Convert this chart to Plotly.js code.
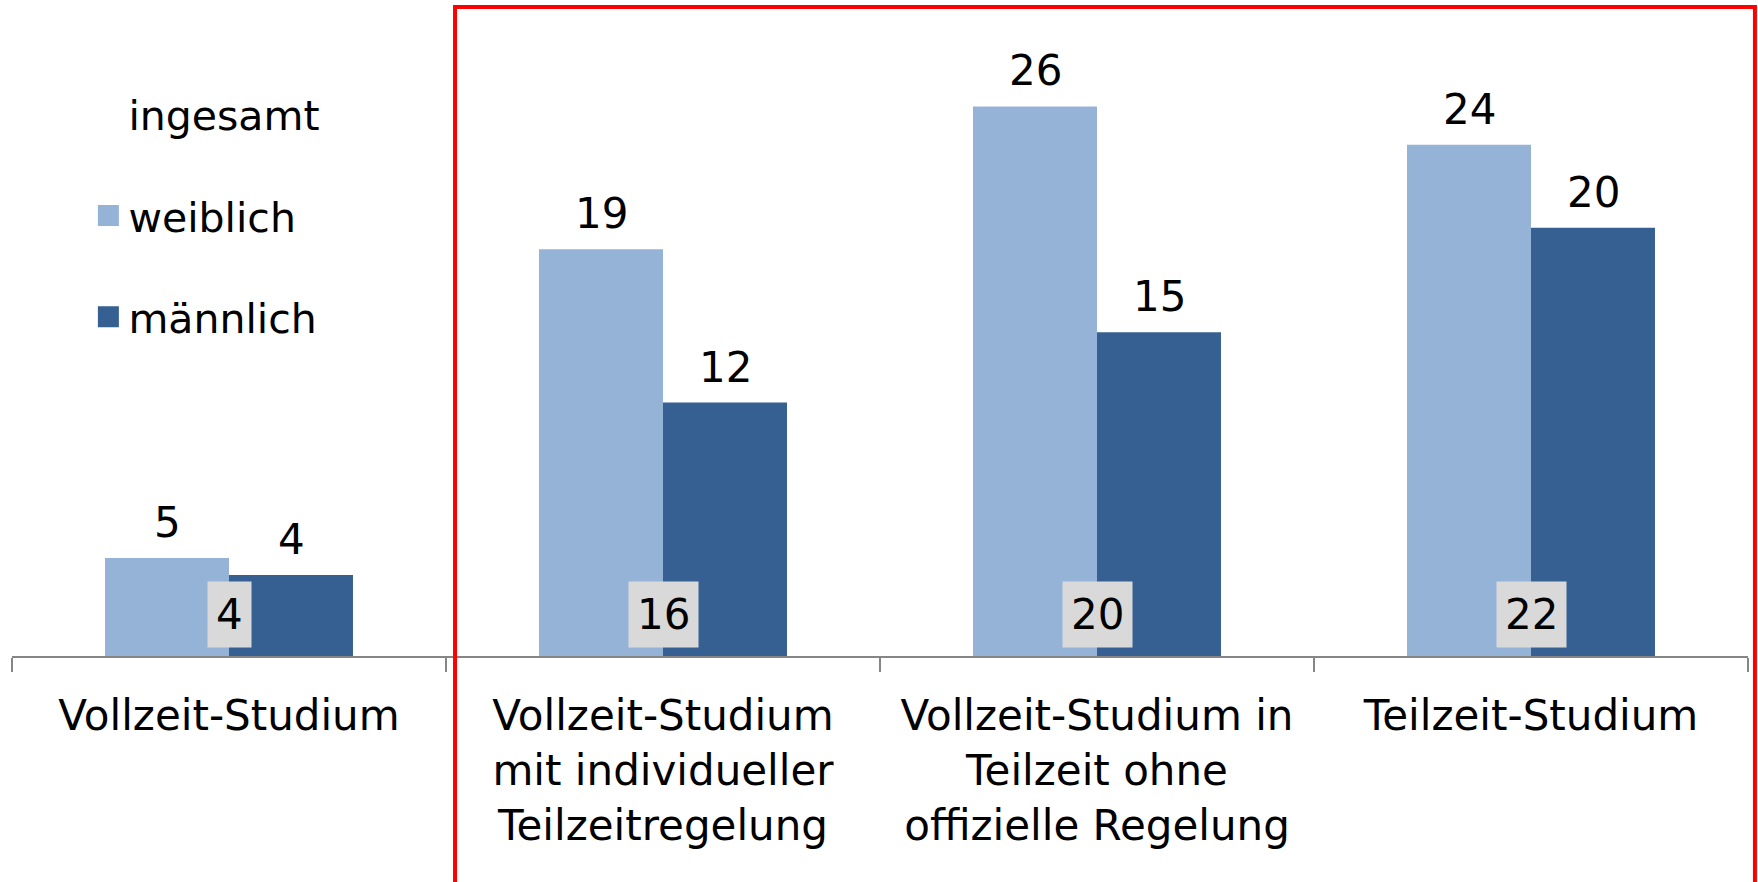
<!DOCTYPE html>
<html>
<head>
<meta charset="utf-8">
<script src="https://cdn.plot.ly/plotly-3.0.1.min.js"></script>
<style>html,body{margin:0;padding:0;background:#fff;}#chart{width:1758px;height:882px;}</style>
</head>
<body>
<div id="chart"></div>
<script>
// ---- data ----
const categories = [
  "Vollzeit-Studium",
  "Vollzeit-Studium<br>mit individueller<br>Teilzeitregelung",
  "Vollzeit-Studium in<br>Teilzeit ohne<br>offizielle Regelung",
  "Teilzeit-Studium"
];
const weiblich = [4.6, 19.1, 25.8, 24.0];
const maennlich = [3.8, 11.9, 15.2, 20.1];
const ingesamt = [4, 16, 20, 22];
const seriesNames = ["ingesamt", "weiblich", "männlich"];
const colW = "#95b3d7";
const colM = "#376092";

const FONT = "DejaVu Sans, Verdana, sans-serif";
const BARW_PX = 62; // half a bar: label offset from category centre

const traces = [
  // ingesamt: legend entry only (values shown as grey boxes)
  {type: "scatter", mode: "markers", name: seriesNames[0], x: categories, y: ingesamt,
   marker: {color: "rgba(0,0,0,0)", size: 16}, hoverinfo: "skip", legendgroup: "g0"},
  {type: "bar", name: seriesNames[1], x: categories, y: weiblich, marker: {color: colW},
   showlegend: false},
  {type: "bar", name: seriesNames[2], x: categories, y: maennlich, marker: {color: colM},
   showlegend: false},
  // legend swatches
  {type: "scatter", mode: "markers", name: seriesNames[1], x: [null], y: [null],
   marker: {symbol: "square", size: 16, color: colW, line: {color: colW, width: 5}}, legendgroup: "g1"},
  {type: "scatter", mode: "markers", name: seriesNames[2], x: [null], y: [null],
   marker: {symbol: "square", size: 16, color: colM, line: {color: colM, width: 5}}, legendgroup: "g2"}
];

const labelFont = {size: 42, color: "#000", family: FONT};
const annotations = [];
categories.forEach((c, i) => {
  annotations.push({x: c, y: 0, xref: "x", yref: "y", yanchor: "bottom", yshift: 8,
    text: String(ingesamt[i]), showarrow: false, bgcolor: "#d9d9d9", borderpad: 8, font: labelFont});
  annotations.push({x: c, y: weiblich[i], xref: "x", yref: "y", yanchor: "bottom", yshift: 9,
    xshift: -BARW_PX, text: String(Math.round(weiblich[i])), showarrow: false, font: labelFont});
  annotations.push({x: c, y: maennlich[i], xref: "x", yref: "y", yanchor: "bottom", yshift: 9,
    xshift: BARW_PX, text: String(Math.round(maennlich[i])), showarrow: false, font: labelFont});
});

const layout = {
  width: 1758, height: 882,
  margin: {l: 12, r: 10, t: 17, b: 226, pad: 0},
  paper_bgcolor: "#fff", plot_bgcolor: "#fff",
  font: {family: FONT, size: 42, color: "#000"},
  barmode: "group", bargap: 0.4286, bargroupgap: 0,
  showlegend: true,
  legend: {x: 0.044, xanchor: "left", y: 0.8997, yanchor: "top", traceorder: "grouped",
           tracegroupgap: 45, font: {size: 41, family: FONT, color: "#000"}, bgcolor: "rgba(0,0,0,0)"},
  xaxis: {type: "category", showline: true, linecolor: "#868686", linewidth: 2,
          ticks: "outside", tickson: "boundaries", ticklen: 14, tickwidth: 2, tickcolor: "#868686",
          tickangle: 0, ticklabelstandoff: 22, tickfont: {size: 42, family: FONT, color: "#000"},
          showgrid: false, zeroline: false, fixedrange: true},
  yaxis: {range: [0, 30], visible: false, showgrid: false, zeroline: false, fixedrange: true},
  annotations: annotations,
  shapes: [{type: "path", xref: "paper", yref: "paper",
            path: "M 0.2552,-0.4 L 0.2552,1.0156 L 1.004,1.0156 L 1.004,-0.4",
            line: {color: "#ff0000", width: 4}}]
};

Plotly.newPlot("chart", traces, layout, {displayModeBar: false, staticPlot: true});
</script>
</body>
</html>
